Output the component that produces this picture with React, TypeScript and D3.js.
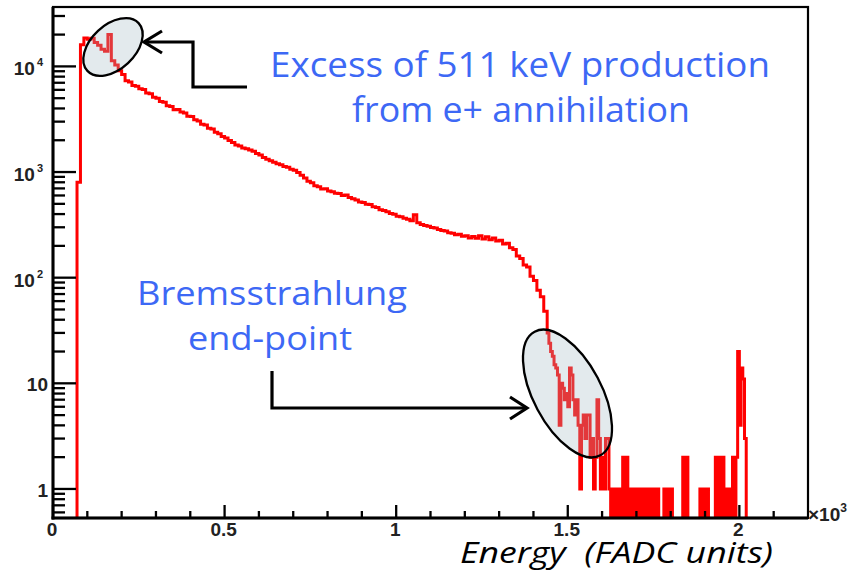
import React from "react";
import * as d3 from "d3";

// ---- data (x in units of 10^3 FADC counts, y = entries per bin) ----
const mainStart = 0.07;
const mainBinWidth = 0.01;
const mainCounts = [
  800, 16000, 18600, 18100, 18500, 16800, 15900, 14500, 13900, 20000,
  11300, 10300, 9100, 8400, 7300, 7100, 6600, 6500, 6150, 6050,
  5600, 5500, 5100, 5000, 4650, 4580, 4250, 4180, 3880, 3900,
  3700, 3620, 3380, 3350, 3120, 3050, 2840, 2790, 2600, 2550,
  2380, 2310, 2170, 2100, 1990, 1900, 1800, 1760, 1690, 1660,
  1620, 1570, 1500, 1450, 1370, 1320, 1280, 1240, 1200, 1170,
  1130, 1110, 1060, 1040, 990, 930, 880, 820, 790, 740,
  725, 690, 695, 660, 650, 630, 625, 600, 605, 575,
  560, 545, 520, 515, 495, 492, 470, 462, 440, 432,
  420, 405, 398, 382, 378, 365, 358, 345, 395, 332,
  318, 312, 306, 298, 296, 286, 279, 276, 266, 263,
  255, 258, 247, 250, 238, 246, 236, 250, 232, 244,
  228, 238, 222, 226, 208, 212, 192, 185, 160, 152,
  132, 126, 103, 94, 76, 66, 48,
];
const tailStart = 1.44;
const tailBinWidth = 0.005;
const tailCounts = [
  30, 24, 20, 18, 15, 14, 12, 4, 10, 9,
  7, 8, 6, 14, 12, 7, 5, 7, 4, 1,
  4, 5, 3, 5, 5, 2, 3, 1, 2, 7,
  3, 1, 2, 1, 3, 3, 1, 0, 1, 0,
  1, 0, 1, 0, 2, 0, 2, 0, 1, 0,
  1, 0, 1, 0, 1, 0, 1, 0, 1, 0,
  1, 0, 1, 0, 1, 0, 0, 0, 1, 0,
  1, 0, 1, 0, 0, 0, 0, 0, 0, 2,
  0, 2, 0, 0, 0, 0, 0, 0, 0, 1,
  0, 1, 0, 1, 0, 0, 0, 0, 2, 0,
  2, 0, 2, 0, 1, 0, 1, 0, 2, 0,
  2, 20, 4, 14, 11, 3, 0,
];

const xDomain = [0, 2.2];
const yDomain = [0.531, 36500];
const xMajorTicks = [0, 0.5, 1, 1.5, 2];
const xMajorLabels = ["0", "0.5", "1", "1.5", "2"];
const yMajorTicks = [1, 10, 100, 1000, 10000];
const yLabelBases = ["1", "10", "10", "10", "10"];
const yLabelExps = ["", "", "2", "3", "4"];

const annotationTop = ["Excess of 511 keV production", "from e+ annihilation"];
const annotationBottom = ["Bremsstrahlung", "end-point"];
const xAxisTitle = "Energy  (FADC units)";

export default function App() {
  const W = 848;
  const H = 572;
  const left = 53, right = 808, top = 7, bottom = 518;
  const x = d3.scaleLinear().domain(xDomain).range([left, right]);
  const y = d3.scaleLog().domain(yDomain).range([bottom, top]);

  type Bin = { x0: number; x1: number; c: number };
  const bins: Bin[] = [];
  mainCounts.forEach((c, i) =>
    bins.push({ x0: mainStart + i * mainBinWidth, x1: mainStart + (i + 1) * mainBinWidth, c })
  );
  tailCounts.forEach((c, i) =>
    bins.push({ x0: tailStart + i * tailBinWidth, x1: tailStart + (i + 1) * tailBinWidth, c })
  );
  const floorY = bottom + 12;
  const pts: [number, number][] = [[x(0), floorY], [x(bins[0].x0), floorY]];
  bins.forEach((b) => {
    const yy = b.c > 0 ? y(b.c) : floorY;
    pts.push([x(b.x0), yy]);
    pts.push([x(b.x1), yy]);
  });
  pts.push([x(bins[bins.length - 1].x1), floorY]);
  pts.push([x(xDomain[1]), floorY]);
  const histPath = d3.line()(pts) || "";

  const yMinor: number[] = [];
  for (let e = -1; e <= 4; e++) {
    for (let k = 2; k <= 9; k++) {
      const v = k * Math.pow(10, e);
      if (v >= yDomain[0] && v <= yDomain[1]) yMinor.push(v);
    }
  }
  const xMinor: number[] = [];
  for (let i = 0; i < 22; i++) {
    const v = i / 10;
    if (!xMajorTicks.some((m) => Math.abs(m - v) < 1e-9)) xMinor.push(v);
  }

  const labelFont = "'Liberation Sans', Arial, Helvetica, sans-serif";
  const annFont = "'Open Sans', 'DejaVu Sans', sans-serif";
  const blue = "#3d68f5";

  return (
    <svg
      width={W}
      height={H}
      style={{ position: "absolute", left: 0, top: 0, background: "#fff" }}
    >
      <defs>
        <clipPath id="plotClip">
          <rect x={left} y={top} width={right - left} height={bottom - top} />
        </clipPath>
      </defs>
      <rect x={0} y={0} width={W} height={H} fill="#fff" />

      {/* histogram */}
      <g clipPath="url(#plotClip)">
        <path d={histPath} fill="none" stroke="#ff0000" strokeWidth={3} />
      </g>

      {/* frame */}
      <rect x={left} y={top} width={right - left} height={bottom - top} fill="none" stroke="#000" strokeWidth={2.2} />
      <line x1={left} x2={left} y1={top} y2={bottom + 1.5} stroke="#000" strokeWidth={3} />
      <line x1={left - 1.5} x2={right} y1={bottom} y2={bottom} stroke="#000" strokeWidth={3} />

      {/* y ticks */}
      {yMajorTicks.map((v) => (
        <line key={"ym" + v} x1={left} x2={left + 23} y1={y(v)} y2={y(v)} stroke="#000" strokeWidth={2.3} />
      ))}
      {yMinor.map((v) => (
        <line key={"yn" + v} x1={left} x2={left + 12} y1={y(v)} y2={y(v)} stroke="#000" strokeWidth={2.3} />
      ))}
      {yMajorTicks.map((v, i) =>
        yLabelExps[i] ? (
          <text key={"yl" + v} x={43} y={y(v) + 9} textAnchor="end" fontFamily={labelFont} fontWeight="bold" fontSize={19} fill="#222">
            {yLabelBases[i]}
            <tspan fontSize={11} dx={2} dy={-9}>{yLabelExps[i]}</tspan>
          </text>
        ) : (
          <text key={"yl" + v} x={48} y={y(v) + 8} textAnchor="end" fontFamily={labelFont} fontWeight="bold" fontSize={19} fill="#222">
            {yLabelBases[i]}
          </text>
        )
      )}

      {/* x ticks */}
      {xMajorTicks.map((v) => (
        <line key={"xm" + v} x1={x(v)} x2={x(v)} y1={bottom} y2={bottom - 13} stroke="#000" strokeWidth={2.3} />
      ))}
      {xMinor.map((v) => (
        <line key={"xn" + v} x1={x(v)} x2={x(v)} y1={bottom} y2={bottom - 7} stroke="#000" strokeWidth={2.3} />
      ))}
      {xMajorTicks.map((v, i) => (
        <text key={"xl" + v} x={x(v) - 1} y={536} textAnchor="middle" fontFamily={labelFont} fontWeight="bold" fontSize={19} fill="#222">
          {xMajorLabels[i]}
        </text>
      ))}
      <text x={808} y={521} fontFamily={labelFont} fontWeight="bold" fontSize={19} fill="#222">
        ×10<tspan fontSize={12} dy={-9}>3</tspan>
      </text>

      {/* ellipses */}
      <ellipse cx={113} cy={47} rx={35} ry={22} transform="rotate(-43 113 47)" fill="#a3bac4" fillOpacity={0.3} stroke="#000" strokeWidth={2.3} />
      <ellipse cx={567.5} cy={393.5} rx={70} ry={34} transform="rotate(62 567.5 393.5)" fill="#a3bac4" fillOpacity={0.3} stroke="#000" strokeWidth={2.3} />

      {/* arrows */}
      <polyline points="247,87 193,87 193,42 145,42" fill="none" stroke="#000" strokeWidth={3.2} />
      <polyline points="162,31 144,42 162,53" fill="none" stroke="#000" strokeWidth={3.2} />
      <polyline points="272,371 272,408 526,408" fill="none" stroke="#000" strokeWidth={3.2} />
      <polyline points="510,397 527,408 510,419" fill="none" stroke="#000" strokeWidth={3.2} />

      {/* annotations */}
      <text x={270} y={77} fontFamily={annFont} fontSize={34} fill={blue} textLength={500} lengthAdjust="spacingAndGlyphs">
        {annotationTop[0]}
      </text>
      <text x={352} y={122} fontFamily={annFont} fontSize={34} fill={blue} textLength={338} lengthAdjust="spacingAndGlyphs">
        {annotationTop[1]}
      </text>
      <text x={137} y={305} fontFamily={annFont} fontSize={32} fill={blue} textLength={270} lengthAdjust="spacingAndGlyphs">
        {annotationBottom[0]}
      </text>
      <text x={188} y={350} fontFamily={annFont} fontSize={32} fill={blue} textLength={164} lengthAdjust="spacingAndGlyphs">
        {annotationBottom[1]}
      </text>

      {/* axis title */}
      <text x={460} y={563} fontFamily={annFont} fontStyle="italic" fontSize={29} fill="#000" textLength={313} lengthAdjust="spacingAndGlyphs" style={{ whiteSpace: "pre" }}>
        {xAxisTitle}
      </text>
    </svg>
  );
}
